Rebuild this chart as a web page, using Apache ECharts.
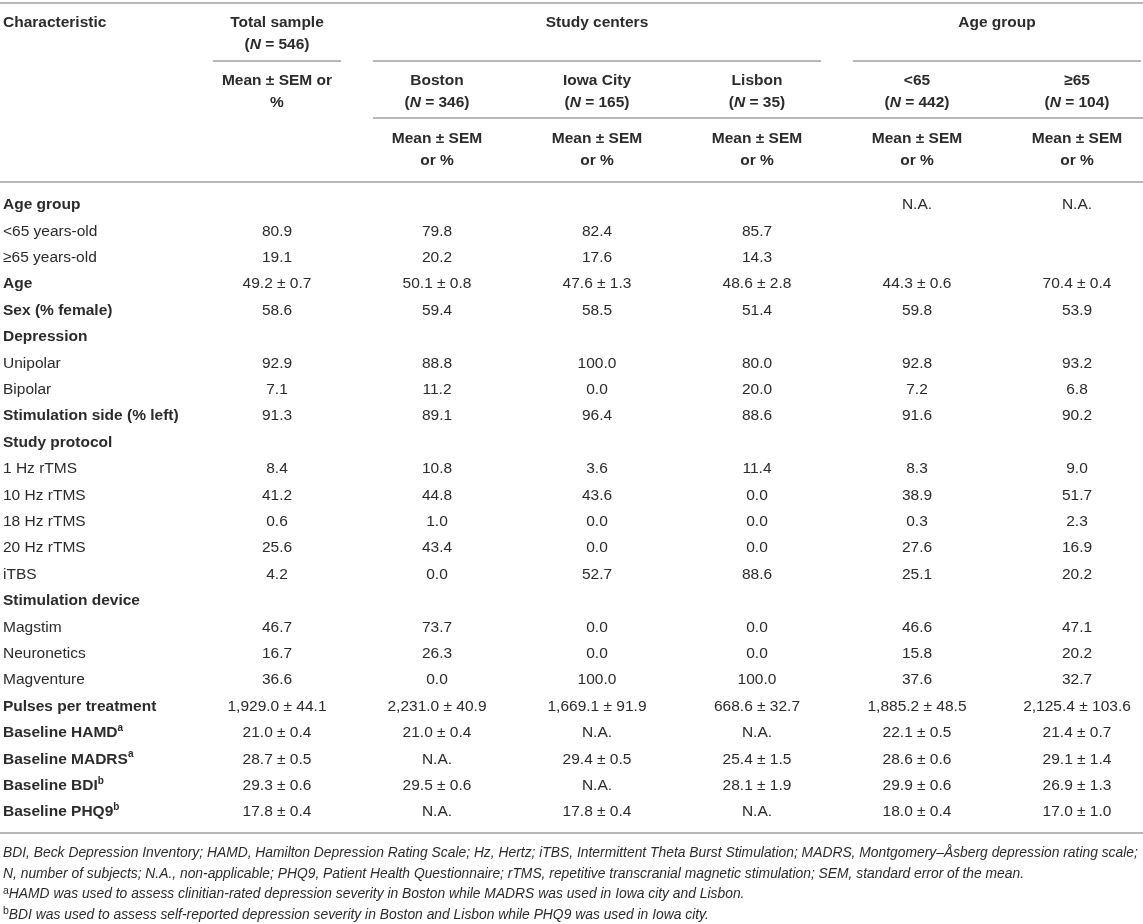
<!DOCTYPE html>
<html><head><meta charset="utf-8">
<script src="https://cdn.jsdelivr.net/npm/echarts@6/dist/echarts.min.js"></script>
<style>html,body{margin:0;padding:0;background:#fff}#c{width:1143px;height:924px}</style>
</head><body><div id="c"></div>
<script>
// ---------- data ----------
const rowLabels = ["Age group","<65 years-old","≥65 years-old","Age","Sex (% female)","Depression","Unipolar","Bipolar","Stimulation side (% left)","Study protocol","1 Hz rTMS","10 Hz rTMS","18 Hz rTMS","20 Hz rTMS","iTBS","Stimulation device","Magstim","Neuronetics","Magventure","Pulses per treatment","Baseline HAMD","Baseline MADRS","Baseline BDI","Baseline PHQ9"];
const boldRows = [0,3,4,5,8,9,15,19,20,21,22,23];
const rowSup = {20:"a",21:"a",22:"b",23:"b"};

const colTotal   = ["","80.9","19.1","49.2 ± 0.7","58.6","","92.9","7.1","91.3","","8.4","41.2","0.6","25.6","4.2","","46.7","16.7","36.6","1,929.0 ± 44.1","21.0 ± 0.4","28.7 ± 0.5","29.3 ± 0.6","17.8 ± 0.4"];
const colBoston  = ["","79.8","20.2","50.1 ± 0.8","59.4","","88.8","11.2","89.1","","10.8","44.8","1.0","43.4","0.0","","73.7","26.3","0.0","2,231.0 ± 40.9","21.0 ± 0.4","N.A.","29.5 ± 0.6","N.A."];
const colIowa    = ["","82.4","17.6","47.6 ± 1.3","58.5","","100.0","0.0","96.4","","3.6","43.6","0.0","0.0","52.7","","0.0","0.0","100.0","1,669.1 ± 91.9","N.A.","29.4 ± 0.5","N.A.","17.8 ± 0.4"];
const colLisbon  = ["","85.7","14.3","48.6 ± 2.8","51.4","","80.0","20.0","88.6","","11.4","0.0","0.0","0.0","88.6","","0.0","0.0","100.0","668.6 ± 32.7","N.A.","25.4 ± 1.5","28.1 ± 1.9","N.A."];
const colUnder65 = ["N.A.","","","44.3 ± 0.6","59.8","","92.8","7.2","91.6","","8.3","38.9","0.3","27.6","25.1","","46.6","15.8","37.6","1,885.2 ± 48.5","22.1 ± 0.5","28.6 ± 0.6","29.9 ± 0.6","18.0 ± 0.4"];
const colOver65  = ["N.A.","","","70.4 ± 0.4","53.9","","93.2","6.8","90.2","","9.0","51.7","2.3","16.9","20.2","","47.1","20.2","32.7","2,125.4 ± 103.6","21.4 ± 0.7","29.1 ± 1.4","26.9 ± 1.3","17.0 ± 1.0"];

const colNames = ["Total sample","Boston","Iowa City","Lisbon","<65","≥65"];
const colN = ["546","346","165","35","442","104"];
const colSub = [["Mean ± SEM or","%"],["Mean ± SEM","or %"],["Mean ± SEM","or %"],["Mean ± SEM","or %"],["Mean ± SEM","or %"],["Mean ± SEM","or %"]];
const firstHeader = "Characteristic";
const groupHeaders = [{name:"Study centers", from:2, to:4},{name:"Age group", from:5, to:6}];
const footnotes = [
  {sup:"", text:"BDI, Beck Depression Inventory; HAMD, Hamilton Depression Rating Scale; Hz, Hertz; iTBS, Intermittent Theta Burst Stimulation; MADRS, Montgomery–Åsberg depression rating scale;"},
  {sup:"", text:"N, number of subjects; N.A., non-applicable; PHQ9, Patient Health Questionnaire; rTMS, repetitive transcranial magnetic stimulation; SEM, standard error of the mean."},
  {sup:"a", text:"HAMD was used to assess clinitian-rated depression severity in Boston while MADRS was used in Iowa city and Lisbon."},
  {sup:"b", text:"BDI was used to assess self-reported depression severity in Boston and Lisbon while PHQ9 was used in Iowa city."}
];

// ---------- build ----------
const columns = [colTotal, colBoston, colIowa, colLisbon, colUnder65, colOver65];
const cells = [];
columns.forEach((col, ci) => col.forEach((v, ri) => { if (v !== "") cells.push([ci + 1, ri, v]); }));

const FAM = '"Liberation Sans", Arial, Helvetica, sans-serif';
const FS = 15.5;
const TXT = '#2b2b2b';
const RULE = '#b8b8b8';
const W = 1143;

const chart = echarts.init(document.getElementById('c'), null, {renderer: 'canvas'});
chart.setOption({
  animation: false,
  backgroundColor: '#fff',
  grid: {left: 0, right: 0, top: 191.8, bottom: 98.6, containLabel: false},
  xAxis: {type: 'value', min: -0.73125, max: 6.4125, show: false},
  yAxis: {
    type: 'category', data: rowLabels, inverse: true,
    axisLine: {show: false}, axisTick: {show: false}, splitLine: {show: false},
    axisLabel: {
      inside: true, margin: 3, interval: 0,
      formatter: (value, idx) => (boldRows.includes(idx) ? '{b|' + value + '}' : '{n|' + value + '}') + (rowSup[idx] ? '{s|' + rowSup[idx] + '}' : ''),
      rich: {
        n: {fontFamily: FAM, fontSize: FS, color: TXT, lineHeight: 20},
        b: {fontFamily: FAM, fontSize: FS, fontWeight: 'bold', color: TXT, lineHeight: 20},
        s: {fontFamily: FAM, fontSize: 10, fontWeight: 'bold', color: TXT, verticalAlign: 'top', lineHeight: 11}
      }
    }
  },
  series: [{
    type: 'custom',
    data: cells,
    encode: {x: 0, y: 1},
    renderItem: (params, api) => {
      const p = api.coord([api.value(0), api.value(1)]);
      const t = cells[params.dataIndex][2];
      return {type: 'text', style: {text: t, x: p[0], y: p[1], align: 'center', verticalAlign: 'middle', font: FS + 'px ' + FAM, fill: TXT}};
    }
  }]
});

// ---------- header, rules, footnotes ----------
const cx = i => chart.convertToPixel({xAxisIndex: 0}, i);
const half = 64;
const g = [];
const boldFont = 'bold ' + FS + 'px ' + FAM;
const richHead = {
  t: {font: boldFont, fill: TXT},
  i: {font: 'italic bold ' + FS + 'px ' + FAM, fill: TXT}
};
function headText(txt, x, y, align) {
  g.push({type: 'text', silent: true, style: {text: txt, x: x, y: y, align: align || 'center', verticalAlign: 'middle', font: boldFont, fill: TXT}});
}
function nText(n, x, y) {
  g.push({type: 'text', silent: true, style: {text: '{t|(}{i|N}{t| = ' + n + ')}', rich: richHead, x: x, y: y, align: 'center', verticalAlign: 'middle', font: boldFont, fill: TXT}});
}
function rule(x1, x2, y) {
  g.push({type: 'line', silent: true, shape: {x1: x1, y1: y, x2: x2, y2: y}, style: {stroke: RULE, lineWidth: 2}});
}
headText(firstHeader, 3, 23, 'left');
// total sample column
headText(colNames[0], cx(1), 23);
nText(colN[0], cx(1), 45);
headText(colSub[0][0], cx(1), 81);
headText(colSub[0][1], cx(1), 103);
rule(cx(1) - half, cx(1) + half, 61);
// other columns
for (let i = 1; i < colNames.length; i++) {
  const x = cx(i + 1);
  headText(colNames[i], x, 81);
  nText(colN[i], x, 103);
  headText(colSub[i][0], x, 139);
  headText(colSub[i][1], x, 161);
}
groupHeaders.forEach(gh => {
  const x1 = cx(gh.from) - half, x2 = Math.min(W, cx(gh.to) + half);
  headText(gh.name, (x1 + x2) / 2, 23);
  rule(x1, x2, 61);
});
rule(cx(2) - half, W, 118);
rule(0, W, 3);
rule(0, W, 182);
rule(0, W, 833);
const fnFont = 'italic 13.85px ' + FAM;
footnotes.forEach((f, k) => {
  const txt = (f.sup ? '{s|' + f.sup + '}' : '') + '{n|' + f.text + '}';
  g.push({type: 'text', silent: true, style: {
    text: txt, x: 3, y: 853 + k * 20.7, align: 'left', verticalAlign: 'middle', font: fnFont, fill: TXT,
    rich: {n: {font: fnFont, fill: TXT, lineHeight: 18}, s: {font: '10.5px ' + FAM, fill: TXT, verticalAlign: 'top', lineHeight: 11}}
  }});
});
chart.setOption({graphic: {elements: g}});
</script>
</body></html>
